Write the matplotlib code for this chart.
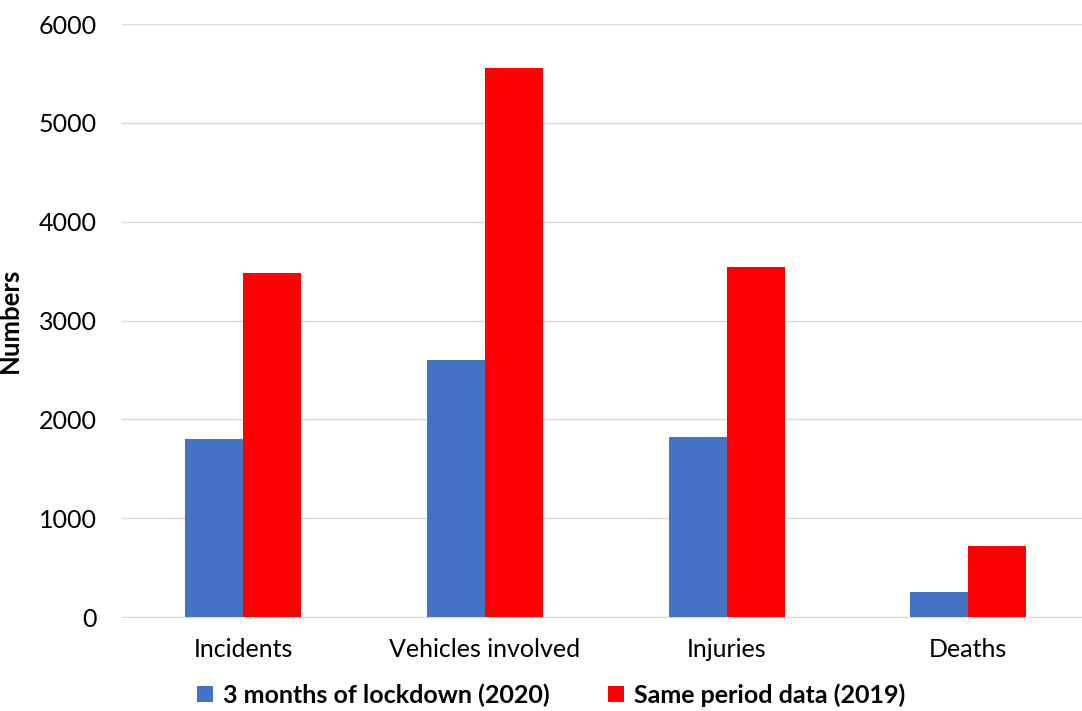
import matplotlib
matplotlib.use("Agg")
import matplotlib.pyplot as plt
import numpy as np

categories = ["Incidents", "Vehicles involved", "Injuries", "Deaths"]
lockdown_2020 = [1800, 2600, 1820, 250]
same_period_2019 = [3480, 5560, 3540, 720]
series_names = ["3 months of lockdown (2020)", "Same period data (2019)"]

plt.rcParams['font.family'] = ['Lato', 'DejaVu Sans']

fig = plt.figure(figsize=(10.82, 7.11), dpi=100)
ax = fig.add_axes([0.1128, 0.1322, 0.8872, 0.834])

x = np.arange(len(categories))
w = 0.24
ax.bar(x - w / 2, lockdown_2020, w, color="#4472C4", label=series_names[0], zorder=3)
ax.bar(x + w / 2, same_period_2019, w, color="#FF0000", label=series_names[1], zorder=3)

ax.set_xlim(-0.5, 3.47)
ax.set_ylim(0, 6000)
ax.set_yticks(range(0, 6001, 1000))
ax.set_xticks(x)
ax.set_xticklabels(categories)
ax.tick_params(axis="both", length=0, labelsize=18, colors="black")
ax.tick_params(axis="x", pad=15)
ax.tick_params(axis="y", pad=18)
ax.grid(axis="y", color="#d9d9d9", linewidth=1, zorder=0)
for s in ["top", "right", "left"]:
    ax.spines[s].set_visible(False)
ax.spines["bottom"].set_color("#d9d9d9")

ax.set_ylabel("Numbers", fontsize=18.5, fontweight="bold", labelpad=12)

ax.legend(loc="center", bbox_to_anchor=(0.447, -0.1315), ncol=2, frameon=False,
          prop={"size": 18, "weight": "bold"}, handlelength=0.65, handleheight=0.65,
          handletextpad=0.4, columnspacing=2.3)

fig.savefig("out.png", dpi=100)
